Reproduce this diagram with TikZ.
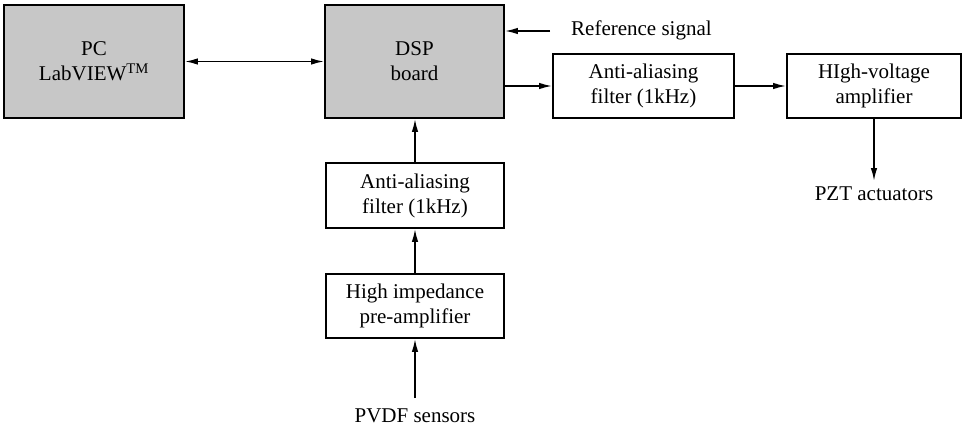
\documentclass[tikz,border=0pt]{standalone}
\usepackage{fontspec}
\setmainfont{Liberation Serif}
\usetikzlibrary{arrows.meta}
\begin{document}
\begin{tikzpicture}[x=1pt,y=-1pt,
  every node/.style={font=\fontsize{21}{25}\selectfont, inner sep=0pt},
  blk/.style={draw, line width=1.8pt, align=center},
  gblk/.style={blk, fill=black!22},
  conn/.style={line width=1.6pt, -{Latex[length=13pt,width=6.5pt]}},
  lbl/.style={align=center}]
\useasboundingbox (0,0) rectangle (964,428);
\node[gblk, minimum width=180pt, minimum height=113pt] (pc) at (94,61.5) {PC\\LabVIEW\textsuperscript{TM}};
\node[gblk, minimum width=179pt, minimum height=113pt] (dsp) at (414.5,61.5) {DSP\\board};
\node[blk, minimum width=181pt, minimum height=64pt] (aaf1) at (643.5,86) {Anti-aliasing\\filter (1kHz)};
\node[blk, minimum width=174pt, minimum height=64pt] (hv) at (874,86) {HIgh-voltage\\amplifier};
\node[blk, minimum width=178pt, minimum height=65pt] (aaf2) at (415,195.5) {Anti-aliasing\\filter (1kHz)};
\node[blk, minimum width=178pt, minimum height=64pt] (pre) at (415,306) {High impedance\\pre-amplifier};
\node[lbl] (pvdf) at (415,416) {PVDF sensors};
\node[lbl] (pzt) at (874,194) {PZT actuators};
\node[lbl, anchor=west] (ref) at (571,30) {Reference signal};
\coordinate (refs) at (550,31);
\coordinate (pzts) at (874,181);
\coordinate (pvdfs) at (415,398);
\draw[conn, {Latex[length=13pt,width=6.5pt]}-{Latex[length=13pt,width=6.5pt]}] (pc.east) -- (dsp.west);
\draw[conn] (refs) -- (refs -| dsp.east);
\draw[conn] (dsp.east |- aaf1.west) -- (aaf1.west);
\draw[conn] (aaf1.east) -- (hv.west);
\draw[conn] (hv.south) -- (pzts);
\draw[conn] (aaf2.north) -- (aaf2.north |- dsp.south);
\draw[conn] (pre.north) -- (aaf2.south);
\draw[conn] (pvdfs) -- (pre.south);
\end{tikzpicture}
\end{document}
